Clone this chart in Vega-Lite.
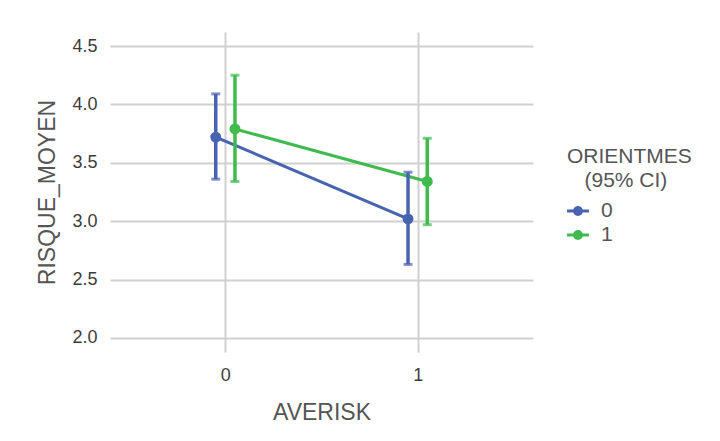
{
  "$schema": "https://vega.github.io/schema/vega-lite/v6.json",
  "width": 423,
  "height": 320,
  "autosize": {"type": "none"},
  "padding": {"left": 110, "top": 32, "right": 187, "bottom": 89},
  "background": "white",
  "config": {
    "font": "Liberation Sans",
    "view": {"stroke": null},
    "axis": {
      "domain": false,
      "ticks": false,
      "gridColor": "#d0d0d0",
      "gridWidth": 2,
      "labelFont": "Liberation Sans",
      "labelFontSize": 18,
      "labelColor": "#3c3c3c",
      "titleFont": "Liberation Sans",
      "titleFontSize": 23,
      "titleFontWeight": "normal",
      "titleColor": "#555555"
    }
  },
  "data": {
    "values": [
      {"AVERISK": 0, "ORIENTMES": "0", "RISQUE_MOYEN": 3.72, "lo": 3.36, "hi": 4.09},
      {"AVERISK": 1, "ORIENTMES": "0", "RISQUE_MOYEN": 3.02, "lo": 2.63, "hi": 3.42},
      {"AVERISK": 0, "ORIENTMES": "1", "RISQUE_MOYEN": 3.79, "lo": 3.34, "hi": 4.25},
      {"AVERISK": 1, "ORIENTMES": "1", "RISQUE_MOYEN": 3.34, "lo": 2.97, "hi": 3.71}
    ]
  },
  "transform": [
    {"calculate": "datum.AVERISK + (datum.ORIENTMES == '0' ? -0.05 : 0.05)", "as": "xd"}
  ],
  "encoding": {
    "x": {
      "field": "xd",
      "type": "quantitative",
      "scale": {"domain": [-0.6, 1.6], "nice": false, "zero": false},
      "axis": {"title": "AVERISK", "values": [0, 1], "format": "d", "labelPadding": 14, "titlePadding": 17}
    },
    "color": {
      "field": "ORIENTMES",
      "type": "nominal",
      "scale": {"domain": ["0", "1"], "range": ["#4863b0", "#3fbb4d"]},
      "legend": {
        "title": ["ORIENTMES", "\u200b\u00a0\u00a0\u00a0(95% CI)"],
        "orient": "none",
        "legendX": 457,
        "legendY": 114,
        "padding": 0,
        "titleAlign": "left",
        "titleAnchor": "start",
        "titleFontSize": 21,
        "titleFontWeight": "normal",
        "titleColor": "#555555",
        "titleLineHeight": 24,
        "titlePadding": 9,
        "labelFontSize": 21,
        "labelColor": "#555555",
        "labelOffset": 12,
        "rowPadding": 3,
        "symbolType": "M-1,-0.13L1,-0.13L1,0.13L-1,0.13Z M0.45,0A0.45,0.45 0 1,1 -0.45,0A0.45,0.45 0 1,1 0.45,0Z",
        "symbolSize": 480,
        "symbolStrokeWidth": 0,
        "symbolOpacity": 1
      }
    }
  },
  "layer": [
    {
      "mark": {"type": "line", "strokeWidth": 3},
      "encoding": {
        "y": {
          "field": "RISQUE_MOYEN",
          "type": "quantitative",
          "scale": {"domain": [1.88, 4.62], "nice": false, "zero": false},
          "axis": {"title": "RISQUE_MOYEN", "values": [2, 2.5, 3, 3.5, 4, 4.5], "format": ".1f", "labelPadding": 13, "titlePadding": 12}
        }
      }
    },
    {
      "mark": {"type": "rule", "strokeWidth": 3.5},
      "encoding": {
        "y": {"field": "lo", "type": "quantitative"},
        "y2": {"field": "hi"}
      }
    },
    {
      "mark": {"type": "tick", "orient": "horizontal", "size": 9, "thickness": 3},
      "encoding": {"y": {"field": "lo", "type": "quantitative"}}
    },
    {
      "mark": {"type": "tick", "orient": "horizontal", "size": 9, "thickness": 3},
      "encoding": {"y": {"field": "hi", "type": "quantitative"}}
    },
    {
      "mark": {"type": "circle", "size": 120, "opacity": 1},
      "encoding": {"y": {"field": "RISQUE_MOYEN", "type": "quantitative"}}
    }
  ]
}
